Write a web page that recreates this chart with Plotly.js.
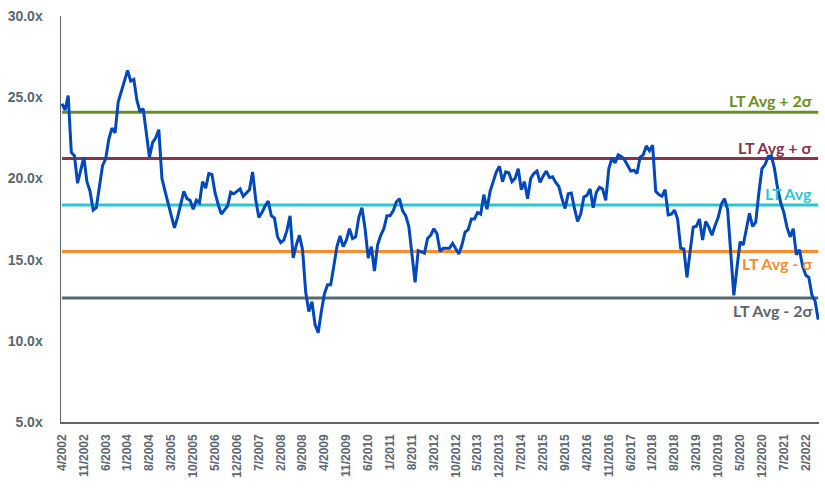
<!DOCTYPE html>
<html>
<head>
<meta charset="utf-8">
<script src="https://cdn.plot.ly/plotly-3.0.1.min.js"></script>
<style>html,body{margin:0;padding:0;background:#fff;}#chart{width:825px;height:501px;}</style>
</head>
<body>
<div id="chart"></div>
<script>
// Monthly categories 4/2002 .. 6/2022
const startYear = 2002, startMonth = 4, nMonths = 243;
const months = [];
for (let i = 0; i < nMonths; i++) {
  const m = (startMonth - 1 + i) % 12 + 1;
  const y = startYear + Math.floor((startMonth - 1 + i) / 12);
  months.push(m + "/" + y);
}

// Forward P/E values
const peValues = [
24.6,24.2,25.1,21.6,21.4,19.7,20.5,21.3,19.8,19.2,18.05,18.2,19.5,20.8,21.2,22.4,23.1,22.8,24.7,25.4,
26.0,26.65,26.0,26.1,24.8,24.1,24.3,22.6,21.3,22.2,22.5,23.0,20.0,19.2,18.5,17.8,16.95,17.6,18.4,19.2,
18.75,18.65,18.1,18.65,18.5,19.8,19.4,20.3,20.25,19.1,18.4,17.8,18.05,18.3,19.15,19.05,19.2,19.35,18.9,19.1,
19.3,20.4,18.7,17.6,17.9,18.3,18.6,17.7,17.55,16.4,16.05,16.2,16.8,17.7,15.1,15.9,16.5,15.6,13.0,11.8,
12.4,11.0,10.5,11.8,12.9,13.45,13.45,14.6,15.8,16.45,15.8,16.2,16.9,16.3,16.4,17.6,18.2,16.9,15.1,15.8,
14.3,15.9,16.5,16.9,17.7,17.7,18.0,18.55,18.75,18.0,17.7,17.05,15.2,13.6,15.55,15.45,15.4,16.3,16.5,16.9,
16.6,15.5,15.7,15.7,15.7,16.0,15.7,15.35,15.9,16.7,16.85,17.5,17.5,17.9,17.8,19.0,18.1,19.2,19.8,20.4,
20.75,19.8,20.4,20.35,19.8,20.0,20.6,19.3,19.8,18.75,20.0,20.3,20.45,19.75,20.15,20.45,20.05,20.1,19.75,19.5,
18.75,18.15,19.05,19.1,18.15,17.35,17.8,18.85,18.95,19.35,18.2,19.15,19.45,19.35,18.65,20.6,21.25,20.95,21.45,21.35,
21.15,20.8,20.45,20.5,20.3,21.3,21.45,22.0,21.7,22.05,19.2,19.0,18.9,19.3,17.75,17.8,18.05,17.5,15.7,15.65,
13.9,15.5,17.0,17.05,17.5,16.2,17.35,17.0,16.5,17.1,17.6,18.4,18.75,18.1,15.6,12.8,14.5,16.1,15.9,16.95,
17.85,17.05,17.3,19.1,20.6,20.85,21.35,21.4,20.6,19.4,18.5,17.9,17.0,16.4,16.9,15.3,15.6,14.6,14.05,13.9,
12.8,12.45,11.3
];

// Reference levels
const bandNames  = ["LT Avg + 2σ", "LT Avg + σ", "LT Avg", "LT Avg - σ", "LT Avg - 2σ"];
const bandLevels = [24.08, 21.22, 18.36, 15.50, 12.64];
const bandColors = ["#6b8e23", "#87344f", "#2ec5cf", "#f68d2e", "#5b6670"];
const labelAbove = [true, true, true, false, false];

const yTickVals = [5, 10, 15, 20, 25, 30];
const yTickText = yTickVals.map(v => v.toFixed(1) + "x");
const tickLabels = months.filter((_, i) => i % 7 === 0);

const traces = [];
bandLevels.forEach((lv, k) => {
  traces.push({
    x: [months[0], months[months.length - 1]],
    y: [lv, lv],
    type: "scatter", mode: "lines",
    line: {color: bandColors[k], width: 3},
    hoverinfo: "skip", showlegend: false
  });
});
traces.push({
  x: months, y: peValues,
  type: "scatter", mode: "lines",
  line: {color: "#0048bb", width: 3},
  showlegend: false
});

const annotations = bandLevels.map((lv, k) => ({
  x: 0.9935, xref: "paper", xanchor: "right",
  y: lv, yref: "y",
  yanchor: labelAbove[k] ? "bottom" : "top",
  yshift: labelAbove[k] ? 0 : -1,
  text: bandNames[k], showarrow: false,
  font: {family: "Lato, 'Liberation Sans', sans-serif", size: 16, color: bandColors[k], weight: "bold"}
}));

const layout = {
  width: 825, height: 501,
  margin: {l: 61, r: 6, t: 16, b: 79},
  paper_bgcolor: "#fff", plot_bgcolor: "#fff",
  showlegend: false,
  font: {family: "'Liberation Sans', Arial, sans-serif", color: "#5b6670"},
  xaxis: {
    type: "category",
    categoryorder: "array", categoryarray: months,
    range: [-0.3, 242.25],
    tickmode: "array", tickvals: tickLabels, ticktext: tickLabels,
    tickangle: -90,
    tickfont: {size: 12, color: "#5b6670", weight: "bold"},
    showgrid: false, zeroline: false,
    showline: true, linecolor: "#5b6670", linewidth: 1.5,
    ticks: "", ticklabelstandoff: 6
  },
  yaxis: {
    range: [5, 30],
    tickmode: "array", tickvals: yTickVals, ticktext: yTickText,
    tickfont: {size: 14, color: "#5b6670", weight: "bold"},
    showgrid: false, zeroline: false,
    showline: true, linecolor: "#5b6670", linewidth: 1.5,
    ticks: "", ticklabelstandoff: 14
  },
  annotations: annotations
};

Plotly.newPlot("chart", traces, layout, {displayModeBar: false, staticPlot: true});
</script>
</body>
</html>
